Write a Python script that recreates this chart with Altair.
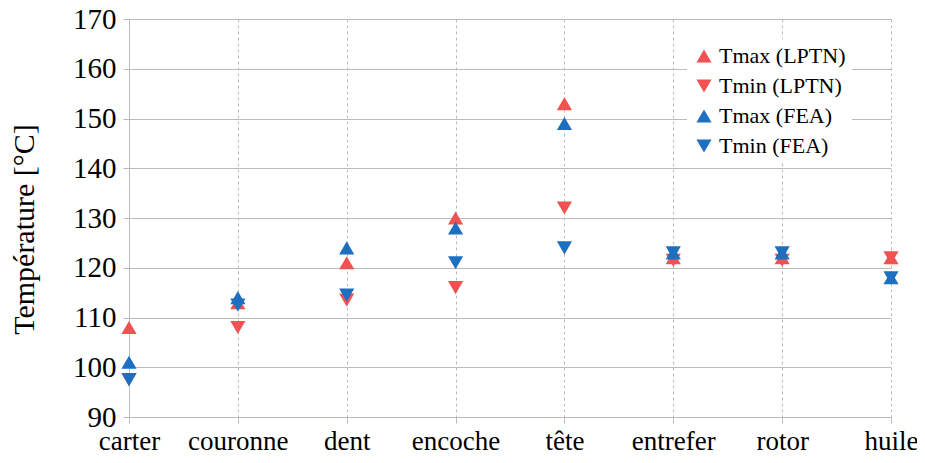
import altair as alt
import pandas as pd

categories = ["carter", "couronne", "dent", "encoche", "tête", "entrefer", "rotor", "huile"]
series_names = ["Tmax (LPTN)", "Tmin (LPTN)", "Tmax (FEA)", "Tmin (FEA)"]
tmax_lptn = [108, 113, 121, 130, 153, 122, 122, 122]
tmin_lptn = [97.5, 108, 113.5, 116, 132, 121.5, 121.5, 122]
tmax_fea = [101, 114, 124, 128, 149, 123, 123, 118]
tmin_fea = [97.5, 112.5, 114.5, 121, 124, 123, 123, 118]

colors = ["#F05252", "#F05252", "#1D6FBF", "#1D6FBF"]
shapes = ["triangle-up", "triangle-down", "triangle-up", "triangle-down"]

rows = []
for order, (name, vals) in enumerate(zip(series_names, [tmax_lptn, tmin_lptn, tmax_fea, tmin_fea])):
    for c, v in zip(categories, vals):
        rows.append({"cat": c, "series": name, "value": v, "order": order})
df = pd.DataFrame(rows)

FONT = "'Liberation Serif', 'Times New Roman', serif"

chart = alt.Chart(df).mark_point(filled=True, opacity=1, size=230).encode(
    x=alt.X("cat:N", sort=categories, title=None,
            scale=alt.Scale(type="point", padding=0),
            axis=alt.Axis(labelAngle=0, labelFontSize=27, labelFont=FONT, labelColor="#000",
                          labelBaseline="alphabetic", labelPadding=26,
                          tickSize=6, tickColor="#bbbbbb", domain=False,
                          grid=True, gridDash=[3, 3], gridColor="#bbbbbb")),
    y=alt.Y("value:Q", title="Température [°C]",
            scale=alt.Scale(domain=[90, 170], nice=False, zero=False),
            axis=alt.Axis(values=list(range(90, 171, 10)), labelFontSize=29, labelFont=FONT,
                          labelColor="#000", labelPadding=7, tickSize=6, tickColor="#bbbbbb",
                          domainColor="#bbbbbb", gridColor="#bbbbbb",
                          titleFont=FONT, titleFontSize=30, titleFontWeight="normal",
                          titleColor="#000", titlePadding=33, titleY=210)),
    color=alt.Color("series:N", scale=alt.Scale(domain=series_names, range=colors), title=None,
                    legend=alt.Legend(orient="none", legendX=558, legendY=20,
                                      labelFont=FONT, labelFontSize=22, labelColor="#000",
                                      symbolSize=230, rowPadding=8, fillColor="white",
                                      padding=6, symbolOpacity=1, labelOffset=4)),
    shape=alt.Shape("series:N", scale=alt.Scale(domain=series_names, range=shapes), title=None),
    order=alt.Order("order:Q"),
).properties(
    width=762, height=398,
    padding={"left": 121, "top": 11, "right": 26, "bottom": 38},
    autosize="none",
).configure_view(stroke=None)

chart.save("out.html", embed_options={"renderer": "svg", "actions": False})
